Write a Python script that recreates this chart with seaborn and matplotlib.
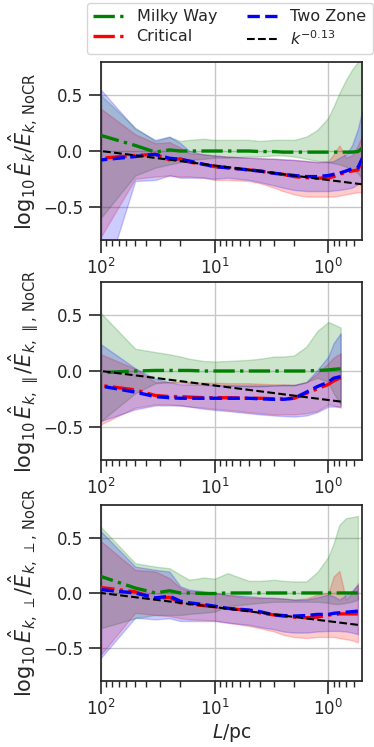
import numpy as np
import matplotlib
matplotlib.use("Agg")
import matplotlib.pyplot as plt
import seaborn as sns

# ---- data (L in pc, log10 energy ratios) ----
L_tot = [100, 50, 33.3, 25, 20, 16.7, 12.5, 10, 7.7, 5, 4, 3, 2.5, 2, 1.56, 1.25, 1.0, 0.9, 0.8, 0.7, 0.62, 0.55, 0.5]
mw_tot = [0.14, 0.05, -0.01, 0.01, 0.0, 0.0, 0.0, 0.0, 0.0, 0.0, -0.005, -0.005, -0.01, -0.01, -0.01, -0.01, -0.01, -0.01, -0.01, -0.01, -0.01, -0.005, 0.03]
mw_tot_hi = [0.5, 0.21, 0.09, 0.125, 0.09, 0.1, 0.11, 0.1, 0.1, 0.1, 0.09, 0.1, 0.1, 0.1, 0.13, 0.19, 0.3, 0.4, 0.52, 0.64, 0.73, 0.8, 0.85]
mw_tot_lo = [-0.6, -0.22, -0.15, -0.12, -0.1, -0.08, -0.07, -0.06, -0.06, -0.05, -0.05, -0.04, -0.04, -0.05, -0.07, -0.09, -0.1, -0.11, -0.12, -0.14, -0.17, -0.2, -0.25]
cr_tot = [-0.065, -0.04, -0.03, -0.08, -0.07, -0.1, -0.12, -0.14, -0.15, -0.17, -0.18, -0.2, -0.21, -0.23, -0.24, -0.245, -0.24, -0.23, -0.21, -0.19, -0.18, -0.17, -0.07]
cr_tot_hi = [0.38, 0.15, 0.07, 0.08, 0.03, -0.02, -0.03, -0.04, -0.05, -0.06, -0.065, -0.07, -0.075, -0.08, -0.09, -0.1, -0.09, -0.03, 0.05, -0.06, -0.04, 0.05, 0.15]
cr_tot_lo = [-0.77, -0.25, -0.23, -0.22, -0.23, -0.23, -0.24, -0.26, -0.26, -0.27, -0.29, -0.33, -0.36, -0.39, -0.41, -0.41, -0.41, -0.41, -0.4, -0.39, -0.38, -0.37, -0.37]
tz_tot = [-0.08, -0.05, -0.03, -0.065, -0.075, -0.09, -0.12, -0.14, -0.15, -0.17, -0.18, -0.2, -0.21, -0.22, -0.23, -0.23, -0.22, -0.21, -0.2, -0.18, -0.16, -0.15, -0.06]
tz_tot_hi = [0.55, 0.2, 0.1, 0.13, 0.07, 0.0, -0.03, -0.04, -0.05, -0.06, -0.065, -0.07, -0.075, -0.08, -0.09, -0.1, -0.1, -0.09, -0.06, -0.03, 0.05, 0.2, 0.38]
tz_tot_lo = [-1.25, -0.27, -0.26, -0.22, -0.24, -0.24, -0.24, -0.25, -0.24, -0.26, -0.28, -0.31, -0.33, -0.35, -0.36, -0.36, -0.36, -0.355, -0.35, -0.34, -0.33, -0.3, -0.27]

L_par = [100, 50, 33.3, 25, 20, 16.7, 12.5, 10, 7.7, 5, 4, 3, 2.5, 2, 1.56, 1.25, 1.0, 0.9, 0.78]
mw_par = [-0.015, 0.0, 0.005, 0.005, 0.005, 0.005, 0.0, 0.0, 0.0, 0.0, 0.0, 0.0, 0.0, 0.0, 0.0, 0.005, 0.01, 0.015, 0.02]
mw_par_hi = [0.52, 0.2, 0.17, 0.15, 0.13, 0.11, 0.09, 0.085, 0.09, 0.1, 0.11, 0.13, 0.13, 0.14, 0.22, 0.36, 0.44, 0.42, 0.39]
mw_par_lo = [-0.45, -0.2, -0.11, -0.1, -0.1, -0.11, -0.12, -0.125, -0.13, -0.14, -0.14, -0.13, -0.13, -0.13, -0.1, -0.06, -0.1, -0.2, -0.3]
cr_par = [-0.13, -0.17, -0.22, -0.23, -0.23, -0.235, -0.24, -0.24, -0.24, -0.245, -0.245, -0.25, -0.25, -0.245, -0.2, -0.16, -0.12, -0.09, -0.06]
cr_par_hi = [0.15, 0.02, -0.1, -0.1, -0.1, -0.1, -0.105, -0.105, -0.11, -0.11, -0.115, -0.12, -0.12, -0.125, -0.1, -0.02, 0.07, 0.12, 0.16]
cr_par_lo = [-0.48, -0.33, -0.3, -0.3, -0.31, -0.32, -0.33, -0.34, -0.35, -0.37, -0.38, -0.39, -0.39, -0.39, -0.38, -0.36, -0.3, -0.31, -0.33]
tz_par = [-0.135, -0.19, -0.23, -0.24, -0.245, -0.245, -0.245, -0.245, -0.245, -0.245, -0.25, -0.255, -0.255, -0.245, -0.19, -0.14, -0.1, -0.065, -0.05]
tz_par_hi = [0.24, 0.025, -0.07, -0.1, -0.12, -0.12, -0.125, -0.13, -0.13, -0.13, -0.13, -0.13, -0.125, -0.125, -0.1, 0.01, 0.13, 0.25, 0.34]
tz_par_lo = [-0.45, -0.345, -0.31, -0.31, -0.31, -0.32, -0.34, -0.35, -0.36, -0.38, -0.39, -0.4, -0.405, -0.41, -0.4, -0.37, -0.32, -0.32, -0.32]

L_perp = [100, 50, 33.3, 25, 20, 16.7, 12.5, 10, 7.7, 5, 4, 3, 2.5, 2, 1.56, 1.25, 1.0, 0.9, 0.8, 0.7, 0.62, 0.55]
mw_perp = [0.15, 0.045, 0.0, 0.02, 0.0, 0.0, -0.005, -0.005, 0.0, 0.0, 0.0, 0.0, 0.0, 0.0, 0.0, 0.0, 0.0, 0.0, 0.0, 0.0, 0.0, 0.0]
mw_perp_hi = [0.6, 0.27, 0.24, 0.225, 0.165, 0.12, 0.14, 0.13, 0.18, 0.11, 0.11, 0.12, 0.11, 0.105, 0.105, 0.19, 0.33, 0.45, 0.62, 0.68, 0.69, 0.7]
mw_perp_lo = [-0.32, -0.23, -0.2, -0.2, -0.2, -0.19, -0.18, -0.17, -0.12, -0.1, -0.09, -0.08, -0.08, -0.08, -0.08, -0.08, -0.09, -0.1, -0.1, -0.09, -0.08, -0.06]
cr_perp = [0.05, 0.01, -0.05, -0.04, -0.09, -0.1, -0.115, -0.125, -0.14, -0.16, -0.18, -0.2, -0.21, -0.22, -0.225, -0.22, -0.2, -0.2, -0.19, -0.19, -0.19, -0.19]
cr_perp_hi = [0.47, 0.21, 0.195, 0.135, 0.045, 0.02, 0.01, 0.0, -0.02, -0.045, -0.045, -0.045, -0.05, -0.06, -0.05, -0.015, 0.0, 0.15, 0.2, -0.06, 0.0, 0.09]
cr_perp_lo = [-0.56, -0.18, -0.2, -0.21, -0.23, -0.24, -0.245, -0.25, -0.27, -0.3, -0.32, -0.35, -0.38, -0.4, -0.41, -0.4, -0.4, -0.4, -0.41, -0.42, -0.43, -0.45]
tz_perp = [0.03, 0.0, -0.045, -0.03, -0.075, -0.09, -0.105, -0.12, -0.14, -0.155, -0.17, -0.2, -0.205, -0.21, -0.205, -0.195, -0.195, -0.185, -0.18, -0.175, -0.17, -0.165]
tz_perp_hi = [0.56, 0.24, 0.21, 0.195, 0.06, 0.03, 0.015, 0.0, -0.015, -0.03, -0.04, -0.045, -0.05, -0.06, -0.06, -0.04, -0.015, -0.03, -0.06, -0.02, 0.02, 0.075]
tz_perp_lo = [-0.59, -0.225, -0.24, -0.23, -0.255, -0.255, -0.255, -0.255, -0.27, -0.29, -0.31, -0.33, -0.35, -0.36, -0.36, -0.35, -0.345, -0.345, -0.345, -0.35, -0.36, -0.375]

# k^-0.13 reference line: end points of the straight (log-x) segment in each panel
ref_L = [[100, 0.5], [100, 0.78], [100, 0.55]]
ref_y = [[0.0, -0.30], [0.0, -0.275], [0.0, -0.29]]

ylabels = [r"$\log_{10}\hat{E}_k/\hat{E}_{k,\,\mathrm{NoCR}}$",
           r"$\log_{10}\hat{E}_{k,\,\parallel}/\hat{E}_{k,\,\parallel,\,\mathrm{NoCR}}$",
           r"$\log_{10}\hat{E}_{k,\,\perp}/\hat{E}_{k,\,\perp,\,\mathrm{NoCR}}$"]


def main():
    sns.set_theme(style="ticks")
    plt.rcParams["font.family"] = ["DejaVu Sans"]
    plt.rcParams["mathtext.fontset"] = "dejavusans"

    fig = plt.figure(figsize=(3.74, 7.47), dpi=100)
    boxes = [[0.270, 0.6787, 0.698, 0.2383],
             [0.270, 0.3842, 0.698, 0.2383],
             [0.270, 0.0884, 0.698, 0.2356]]

    panels = [
        (L_tot, (mw_tot, mw_tot_lo, mw_tot_hi), (cr_tot, cr_tot_lo, cr_tot_hi), (tz_tot, tz_tot_lo, tz_tot_hi)),
        (L_par, (mw_par, mw_par_lo, mw_par_hi), (cr_par, cr_par_lo, cr_par_hi), (tz_par, tz_par_lo, tz_par_hi)),
        (L_perp, (mw_perp, mw_perp_lo, mw_perp_hi), (cr_perp, cr_perp_lo, cr_perp_hi), (tz_perp, tz_perp_lo, tz_perp_hi)),
    ]
    styles = [("Milky Way", "green", "-."), ("Critical", "red", "-."), ("Two Zone", "blue", "--")]

    axes = []
    for i, (L, *series) in enumerate(panels):
        ax = fig.add_axes(boxes[i])
        for (mid, lo, hi), (name, col, ls) in zip(series, styles):
            ax.fill_between(L, lo, hi, color=col, alpha=0.2, zorder=1)
            sns.lineplot(x=L, y=mid, ax=ax, color=col, linestyle=ls, lw=2.4,
                         label=name, legend=False, zorder=3)
        sns.lineplot(x=ref_L[i], y=ref_y[i], ax=ax, color="black", linestyle="--",
                     lw=1.5, label=r"$k^{-0.13}$", legend=False, zorder=4)
        if ax.get_legend() is not None:
            ax.get_legend().remove()

        ax.set_xscale("log")
        ax.set_xlim(100, 0.506)
        ax.set_ylim(-0.8, 0.8)
        ax.set_yticks([-0.5, 0.0, 0.5])
        ax.grid(True, which="major", color="0.78", lw=1.0)
        ax.set_axisbelow(True)
        ax.tick_params(which="major", labelsize=12, length=9, width=1.2, pad=4)
        ax.tick_params(which="minor", length=4, width=1.0)
        ax.set_ylabel(ylabels[i], fontsize=15, labelpad=2)
        axes.append(ax)

    axes[-1].set_xlabel(r"$L$/pc", fontsize=13.5, labelpad=2)

    handles, labels = axes[0].get_legend_handles_labels()
    fig.legend(handles, labels, ncol=2, loc="upper right", fontsize=11.5,
               bbox_to_anchor=(373 / 374, 1 - 3 / 747), borderaxespad=0,
               columnspacing=1.9, handlelength=2.0, handletextpad=0.7,
               labelspacing=0.3, borderpad=0.4, frameon=True)

    fig.savefig("out.png", dpi=100)


if __name__ == "__main__":
    main()
